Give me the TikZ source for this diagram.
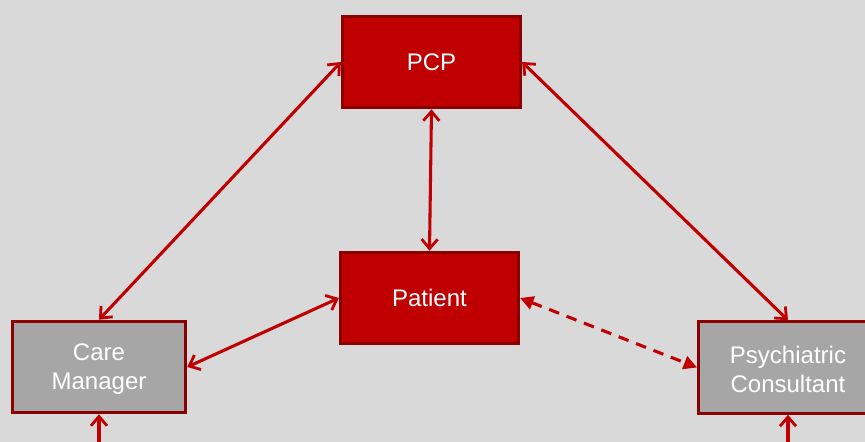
\documentclass[tikz,border=0pt]{standalone}
\usepackage{fontspec}
\setmainfont{Liberation Sans}
\usetikzlibrary{arrows.meta}
\definecolor{bg}{HTML}{D9D9D9}
\definecolor{boxred}{HTML}{C00000}
\definecolor{boxgray}{HTML}{A6A6A6}
\definecolor{edge}{HTML}{8B0000}
\definecolor{arr}{HTML}{C00000}
\begin{document}
\begin{tikzpicture}[x=0.75pt,y=-0.75pt,
  box/.style={draw=edge, line width=2.4pt, text=white, align=center,
    font=\fontsize{18}{21.75}\selectfont, inner sep=0pt},
  redbox/.style={box, fill=boxred, minimum width=133.5pt, minimum height=68.5pt},
  graybox/.style={box, fill=boxgray, minimum width=130pt, minimum height=68.5pt},
  barb/.tip={Straight Barb[length=7pt,width=12pt,line width=2.1pt]},
  link/.style={draw=arr, line width=2.3pt, barb-barb},
  dlink/.style={draw=arr, line width=2.3pt, dash pattern=on 8pt off 6pt, {Triangle[length=10pt,width=10pt]}-{Triangle[length=10pt,width=10pt]}},
  uplink/.style={draw=arr, line width=2.3pt, -barb}
]
\fill[bg] (0,0) rectangle (865,442);
\useasboundingbox (0,0) rectangle (865,442);
\node[redbox] (pcp) at (431.5,62) {PCP};
\node[redbox] (patient) at (429.5,298) {Patient};
\node[graybox] (care) at (99,367) {\strut Care\\Manager};
\node[graybox, minimum width=134pt] (psych) at (788,367.5) {\strut Psychiatric\\Consultant};
\coordinate (cb) at (99,470);
\coordinate (pb) at (788,470);
\draw[link] (pcp.west) -- (care.north);
\draw[link] (pcp.east) -- (psych.north);
\draw[link] (pcp.south) -- (patient.north);
\draw[link] (patient.west) -- (care.east);
\draw[dlink] (patient.east) -- (psych.west);
\draw[uplink] (cb) -- (care.south);
\draw[uplink] (pb) -- (psych.south);
\end{tikzpicture}
\end{document}
